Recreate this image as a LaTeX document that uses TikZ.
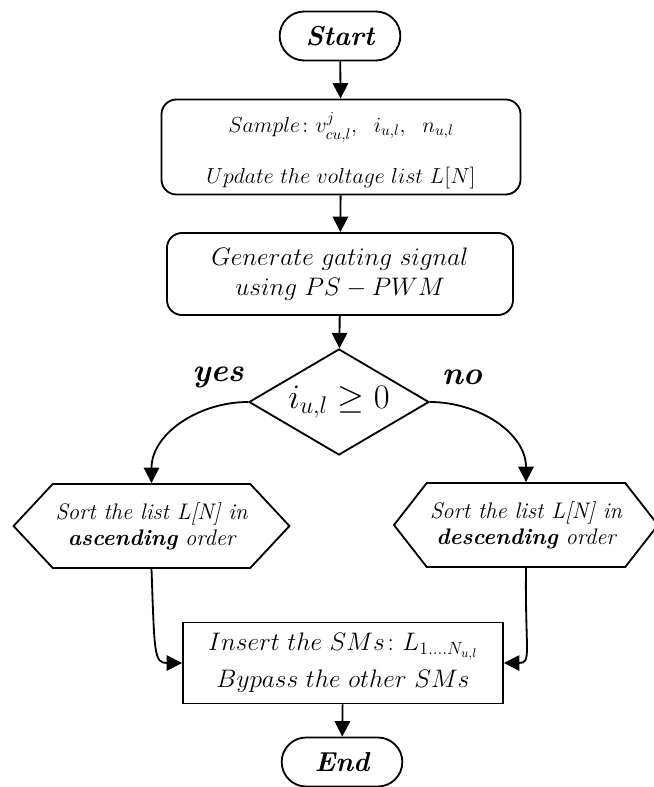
\RequirePackage{fix-cm}
\documentclass[tikz,border=0pt]{standalone}
\usepackage{amsmath, amssymb}
\usepackage{tikz}
\usetikzlibrary{shapes.geometric,shapes.misc,shapes.symbols}
\usetikzlibrary{arrows.meta,calc,positioning}

\begin{document}
\begin{tikzpicture}[x=0.025cm, y=-0.025cm,
    line width=1.3pt,
    flow/.style={-{Triangle[length=11pt,width=11pt]}},
    terminal/.style={draw, rounded rectangle, minimum width=3.25cm, minimum height=1.225cm,
      font=\fontsize{19.5}{22}\selectfont\bfseries\itshape},
    procbox/.style={draw, rectangle, rounded corners=0.375cm, align=center},
    sortbox/.style={draw, signal, signal to=west and east, inner sep=2pt,
      minimum width=6.7cm, minimum height=2.1cm, align=center,
      font=\fontsize{16}{18.5}\selectfont\itshape},
    answer/.style={font=\fontsize{23}{26}\selectfont\bfseries\itshape}]
            \useasboundingbox (0,0) rectangle (653,787);
            % Start and end
            \node[terminal] (start) at (340,36) {Start};
            \node[terminal] (stop) at (342,762) {End};
            % Process boxes
            \node[procbox, minimum width=8.975cm, minimum height=2.375cm, inner sep=1pt,
              font=\fontsize{15.5}{18.5}\selectfont] (sample) at (341,147)
              {\raisebox{0pt}[20pt][6pt]{$Sample\colon v^{j}_{cu,l},\ \ i_{u,l},\ \ n_{u,l}$}\\[18pt]
               $Update\ the\ voltage\ list\ L[N]$};
            \node[procbox, minimum width=8.65cm, minimum height=2.05cm,
              font=\fontsize{18}{21.5}\selectfont] (gate) at (340,274)
              {$Generate\ gating\ signal$\\ $using\ PS-PWM$};
            % Decision
            \node[draw, diamond, aspect=1.7, inner sep=0pt, minimum width=4.5cm,
              minimum height=2.65cm, font=\fontsize{24.5}{28}\selectfont] (sign) at (339,402)
              {$i_{u,l}\geq 0$};
            \node[answer] (yes) at (218,377) {yes};
            \node[answer] (no) at (462,377) {no};
            % Sorting
            \node[sortbox, signal pointer angle=94] (asc) at (151.5,526)
              {Sort the list L[N] in\\ \textbf{ascending} order};
            \node[sortbox, signal pointer angle=104, minimum width=6.6cm] (desc) at (526,525)
              {Sort the list L[N] in\\ \textbf{descending} order};
            % Insertion
            \node[draw, rectangle, minimum width=8cm, minimum height=2.025cm, align=center,
              font=\fontsize{18}{26.5}\selectfont] (insert) at (343,663)
              {$Insert\ the\ SMs\colon L_{1....N_{u,l}}$\\ $Bypass\ the\ other\ SMs$};
            % Connectors
            \draw[flow] (start) -- (sample);
            \draw[flow] (sample) -- (gate);
            \draw[flow] (gate) -- (sign);
            \draw[flow] (sign.west) to[out=180, in=90] (asc.north);
            \draw[flow] (sign.east) to[out=0, in=90] (desc.north);
            \draw[flow] (asc.south) .. controls +(3,85) and +(-28,0) .. (insert.west);
            \draw[flow] (desc.south) .. controls +(-1,85) and +(28,0) .. (insert.east);
            \draw[flow] (insert) -- (stop);
          \end{tikzpicture}
\end{document}
